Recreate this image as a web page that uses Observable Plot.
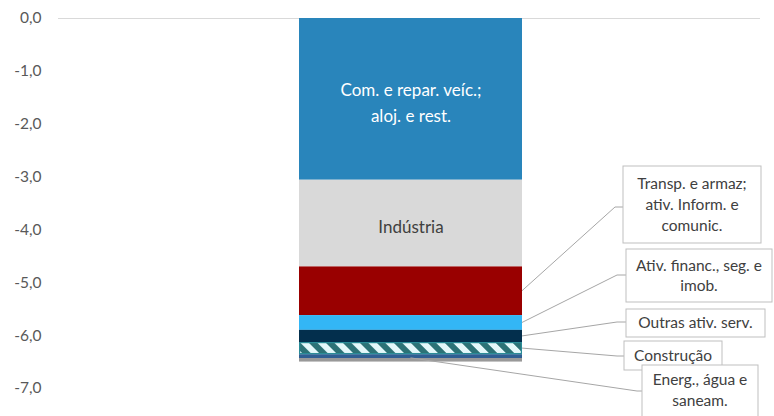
<!DOCTYPE html>
<html>
<head>
<meta charset="utf-8">
<script src="https://cdn.jsdelivr.net/npm/d3@7"></script>
<script src="https://cdn.jsdelivr.net/npm/@observablehq/plot@0.6"></script>
<style>
  html, body { margin: 0; padding: 0; background: #fff; }
  #chart svg { display: block; }
</style>
</head>
<body>
<div id="chart"></div>
<script>
// ---- data ----
const categories = [
  "Com. e repar. veíc.; aloj. e rest.",
  "Indústria",
  "Transp. e armaz; ativ. Inform. e comunic.",
  "Ativ. financ., seg. e imob.",
  "Outras ativ. serv.",
  "Construção",
  "Energ., água e saneam."
];
const values = [-3.06, -1.64, -0.92, -0.28, -0.23, -0.23, -0.14];
const fills = ["#2985BB", "#D9D9D9", "#990000", "#33B6F5", "#032F4D", "url(#hatch)", "url(#energ)"];
const innerLabels = ["Com. e repar. veíc.;\naloj. e rest.", "Indústria", "", "", "", "", ""];
const innerColors = ["#FFFFFF", "#404040"];
const calloutLabels = [
  null, null,
  ["Transp. e armaz;", "ativ. Inform. e", "comunic."],
  ["Ativ. financ., seg. e", "imob."],
  ["Outras ativ. serv."],
  ["Construção"],
  ["Energ., água e", "saneam."]
];
const yTicks = [0, -1, -2, -3, -4, -5, -6, -7];

// ---- layout (callout boxes, px) ----
const calloutLayout = [
  null, null,
  {box: [623, 166, 761, 243], elbow: [615, 207], startX: "right", dy: 21},
  {box: [626, 249, 772, 302], elbow: [617, 275], startX: "right", dy: 20},
  {box: [626, 309, 765, 337], elbow: [617, 322], startX: "right", dy: 20},
  {box: [624, 341, 722, 370], elbow: [617, 356], startX: "right", dy: 20},
  {box: [642, 365, 758, 418], elbow: [637, 391], startX: "center", dy: 21}
];

// stacked table
let acc = 0;
const table = categories.map((c, i) => {
  const y1 = acc; acc += values[i];
  return {cat: c, y1, y2: acc, mid: (y1 + acc) / 2, fill: fills[i], label: innerLabels[i], color: innerColors[i] || "#404040", i};
});

const fmt = d => d.toFixed(1).replace(".", ",");
const FONT = "Lato, 'Open Sans', sans-serif";

const plot = Plot.plot({
  width: 774,
  height: 416,
  marginTop: 18,
  marginBottom: 28,
  marginLeft: 58,
  marginRight: 14,
  style: {fontFamily: FONT, fontSize: "15.5px", color: "#595959", background: "#fff"},
  x: {type: "band", domain: ["total"], range: [299, 522], padding: 0, axis: null},
  y: {domain: [-7, 0], ticks: yTicks, tickFormat: fmt, tickSize: 0, tickPadding: 17, label: null},
  color: {type: "identity"},
  marks: [
    Plot.ruleY([0], {stroke: "#D9D9D9", strokeWidth: 1}),
    Plot.barY(table, {x: () => "total", y1: "y1", y2: "y2", fill: "fill", inset: 0}),
    Plot.barY(table.filter(d => d.i === 5), {x: () => "total", y1: "y1", y2: "y2", fill: "none", stroke: "#2A8C98", strokeWidth: 1.2, inset: 0.6}),
    Plot.text(table.filter(d => d.label), {x: () => "total", y: "mid", text: "label", fill: "color", fontSize: 17, lineHeight: 1.55, dy: 1})
  ]
});

// pattern defs
const svg = d3.select(plot);
const defs = svg.insert("defs", ":first-child");
const pat = defs.append("pattern").attr("id", "hatch").attr("patternUnits", "userSpaceOnUse")
  .attr("width", 12).attr("height", 12).attr("patternTransform", "rotate(-45)");
pat.append("rect").attr("width", 12).attr("height", 12).attr("fill", "#E4F8FA");
pat.append("rect").attr("width", 6).attr("height", 12).attr("fill", "#2C7276");
const grad = defs.append("linearGradient").attr("id", "energ").attr("x1", 0).attr("y1", 0).attr("x2", 0).attr("y2", 1);
grad.append("stop").attr("offset", "0").attr("stop-color", "#2F5E92");
grad.append("stop").attr("offset", "0.46").attr("stop-color", "#2F5E92");
grad.append("stop").attr("offset", "0.46").attr("stop-color", "#999999");
grad.append("stop").attr("offset", "1").attr("stop-color", "#999999");

// callouts using the plot's scales
const ys = plot.scale("y");
const xs = plot.scale("x");
const yPix = ys.apply ? (v => ys.apply(v)) : d3.scaleLinear(ys.domain, ys.range);
const xLeft = xs.apply ? xs.apply("total") : 299;
const bw = xs.bandwidth != null ? xs.bandwidth : 223;
const g = svg.append("g").attr("class", "callouts");
table.forEach((d, i) => {
  const L = calloutLayout[i];
  if (!L) return;
  const sx = L.startX === "right" ? xLeft + bw : xLeft + bw / 2;
  const sy = yPix(d.mid);
  g.append("polyline")
    .attr("points", `${sx},${sy} ${L.elbow[0]},${L.elbow[1]} ${L.box[0]},${L.elbow[1]}`)
    .attr("fill", "none").attr("stroke", "#A6A6A6").attr("stroke-width", 1);
  g.append("rect")
    .attr("x", L.box[0]).attr("y", L.box[1])
    .attr("width", L.box[2] - L.box[0]).attr("height", L.box[3] - L.box[1])
    .attr("fill", "#fff").attr("stroke", "#BFBFBF").attr("stroke-width", 1);
  const lines = calloutLabels[i];
  const cx = (L.box[0] + L.box[2]) / 2;
  const cy = (L.box[1] + Math.min(L.box[3], 416)) / 2;
  lines.forEach((t, k) => {
    g.append("text")
      .attr("x", cx).attr("y", cy + (k - (lines.length - 1) / 2) * L.dy)
      .attr("dy", "0.35em").attr("text-anchor", "middle")
      .attr("fill", "#404040").attr("font-size", 15.5)
      .attr("font-family", FONT)
      .text(t);
  });
});

document.getElementById("chart").appendChild(plot);
</script>
</body>
</html>
